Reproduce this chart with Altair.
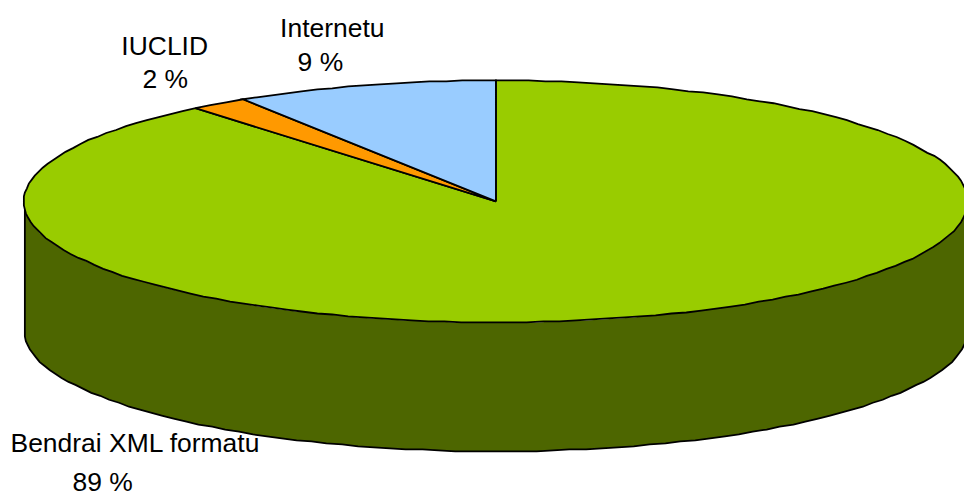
import math
import altair as alt
import pandas as pd

# Chart values
slices = ["Bendrai XML formatu", "IUCLID", "Internetu"]
shares = [89, 2, 9]
colors = ["#99CC00", "#FF9900", "#99CCFF"]
wall_color = "#4D6600"

label_lines = ["Internetu", "9 %", "IUCLID", "2 %", "Bendrai XML formatu", "89 %"]
label_x = [335, 323, 166, 166.5, 136, 103.5]
label_y = [35, 69, 53, 86.5, 454, 493]

# Pie projection, in picture pixels
CX, CY, RX, RY, DEPTH = 500, 201, 476, 122, 130
STEP = 2


def px(t):
    return round(CX + RX * math.sin(math.radians(t)))


def py(t):
    return round(CY - RY * math.cos(math.radians(t)))


wedge_rows = []
start = 0.0
for name, share in zip(slices, shares):
    end = start + share * 3.6
    steps = max(2, int((end - start) / STEP))
    pts = [(CX, CY)]
    for i in range(steps + 1):
        t = start + (end - start) * i / steps
        pts.append((px(t), py(t)))
    pts.append((CX, CY))
    for k, (x, y) in enumerate(pts):
        wedge_rows.append({"slice": name, "k": k, "x": x, "y": y})
    start = end
wedges = pd.DataFrame(wedge_rows)

wall_rows = []
for t in range(93, 268, STEP):
    wall_rows.append({"x": px(t), "y": py(t), "y2": py(t) + DEPTH})
wall = pd.DataFrame(wall_rows)

outline = [{"k": 0, "x": wall_rows[0]["x"], "y": wall_rows[0]["y"]}]
for k, r in enumerate(wall_rows):
    outline.append({"k": k + 1, "x": r["x"], "y": r["y2"]})
outline.append({"k": len(wall_rows) + 1, "x": wall_rows[-1]["x"], "y": wall_rows[-1]["y"]})
outline = pd.DataFrame(outline)

labels = pd.DataFrame({"text": label_lines, "x": label_x, "y": label_y})

xs = alt.Scale(domain=[8, 972], nice=False, zero=False)
ys = alt.Scale(domain=[498, 8], nice=False, zero=False)
X = alt.X("x:Q", scale=xs, axis=None)
Y = alt.Y("y:Q", scale=ys, axis=None)

wall_layer = alt.Chart(wall).mark_area(color=wall_color).encode(x=X, y=Y, y2="y2:Q")
outline_layer = alt.Chart(outline).mark_line(color="black", strokeWidth=1.8).encode(
    x=X, y=Y, order="k:Q"
)

wedge_layers = [
    alt.Chart(wedges[wedges["slice"] == name])
    .mark_line(fill=col, stroke="black", strokeWidth=1.8, strokeJoin="miter")
    .encode(x=X, y=Y, order="k:Q")
    for name, col in zip(slices, colors)
]

text_layer = alt.Chart(labels).mark_text(
    font="Liberation Sans", fontSize=26.67, color="black", align="center", baseline="alphabetic"
).encode(x=X, y=Y, text="text:N")

chart = (
    alt.layer(wall_layer, outline_layer, *wedge_layers, text_layer)
    .properties(width=964, height=490, padding=0, autosize=alt.AutoSizeParams(type="none"))
    .configure_view(stroke=None)
)

chart.save("out.html", embed_options={"renderer": "svg", "actions": False})
